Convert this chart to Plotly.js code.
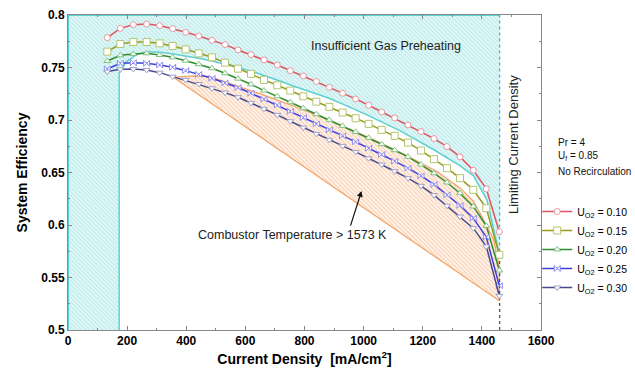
<!DOCTYPE html>
<html>
<head>
<meta charset="utf-8">
<script src="https://cdn.plot.ly/plotly-3.0.1.min.js"></script>
<style>html,body{margin:0;padding:0;background:#fff;}#chart{width:635px;height:381px;}</style>
</head>
<body>
<div id="chart"></div>
<script>
// Current density points (mA/cm^2)
const currentDensity = [133,177,221,266,310,354,398,442,487,531,575,619,663,708,752,796,840,884,929,973,1017,1061,1105,1150,1194,1238,1282,1326,1371,1415,1459];
const seriesNames = ['U<sub>O2</sub> = 0.10','U<sub>O2</sub> = 0.15','U<sub>O2</sub> = 0.20','U<sub>O2</sub> = 0.25','U<sub>O2</sub> = 0.30'];
const effU010 = [0.7784,0.7873,0.7908,0.7914,0.7899,0.7870,0.7835,0.7800,0.7759,0.7718,0.7667,0.7623,0.7572,0.7524,0.7470,0.7420,0.7366,0.7312,0.7255,0.7201,0.7141,0.7077,0.7020,0.6953,0.6890,0.6823,0.6747,0.6649,0.6522,0.6344,0.5935];
const effU015 = [0.7651,0.7724,0.7743,0.7743,0.7730,0.7705,0.7673,0.7635,0.7597,0.7546,0.7489,0.7439,0.7382,0.7331,0.7280,0.7226,0.7175,0.7125,0.7071,0.7017,0.6963,0.6906,0.6849,0.6785,0.6709,0.6627,0.6541,0.6446,0.6335,0.6160,0.5716];
const effU020 = [0.7562,0.7616,0.7629,0.7635,0.7619,0.7597,0.7565,0.7531,0.7493,0.7445,0.7394,0.7340,0.7280,0.7226,0.7169,0.7112,0.7055,0.7001,0.6944,0.6887,0.6830,0.6769,0.6712,0.6649,0.6576,0.6493,0.6405,0.6303,0.6176,0.5992,0.5567];
const effU025 = [0.7486,0.7540,0.7546,0.7540,0.7524,0.7502,0.7470,0.7435,0.7397,0.7353,0.7309,0.7255,0.7198,0.7141,0.7083,0.7023,0.6963,0.6906,0.6849,0.6792,0.6731,0.6671,0.6608,0.6541,0.6468,0.6386,0.6287,0.6186,0.6065,0.5885,0.5422];
const effU030 = [0.7461,0.7483,0.7486,0.7477,0.7451,0.7413,0.7382,0.7343,0.7302,0.7261,0.7217,0.7163,0.7106,0.7049,0.6988,0.6928,0.6868,0.6811,0.6754,0.6696,0.6636,0.6576,0.6512,0.6446,0.6373,0.6284,0.6183,0.6081,0.5970,0.5796,0.5326];

// Preheating limit boundary (insufficient gas preheating above it)
const preheatX = [173,173,198,231,265,311,356,401,446,491,536,582,627,672,717,762,813,881,943,1011,1124,1236,1327,1372,1417,1457];
const preheatY = [0.5,0.7445,0.7556,0.7620,0.7651,0.7645,0.7629,0.7610,0.7585,0.7559,0.7531,0.7496,0.7458,0.7416,0.7372,0.7324,0.7277,0.7210,0.7134,0.7049,0.6896,0.6719,0.6563,0.6468,0.6240,0.5748];
// Combustor temperature limit region (> 1573 K)
const combUpperX = [356,423,480,548,661,774,886,1022,1135,1248,1327,1372,1409,1440,1459];
const combUpperY = [0.7407,0.7420,0.7413,0.7350,0.7239,0.7121,0.6995,0.6827,0.6677,0.6509,0.6351,0.6224,0.6034,0.5859,0.5606];
const combLowerX = [1459,356];
const combLowerY = [0.5279,0.7407];
const limitingCurrent = 1460;
const axisMin = {x:0, y:0.5}, axisMax = {x:1600, y:0.8};
const xTicks = [0,200,400,600,800,1000,1200,1400,1600];
const yTicks = [0.5,0.55,0.6,0.65,0.7,0.75,0.8];
const yTickText = ['0.5','0.55','0.6','0.65','0.7','0.75','0.8'];

const FONT = 'Arial, "Liberation Sans", sans-serif';

// cyan region polygon
const cyanPolyX = [axisMin.x, axisMin.x].concat(preheatX).concat([limitingCurrent, limitingCurrent, axisMin.x]);
const cyanPolyY = [axisMin.y, axisMin.y].concat(preheatY).concat([preheatY[preheatY.length-1], axisMax.y, axisMax.y]);
cyanPolyX[1] = preheatX[0];

const traces = [];
traces.push({x: cyanPolyX, y: cyanPolyY, mode:'lines', fill:'toself', line:{width:0, color:'rgba(0,0,0,0)'},
  fillcolor:'#e0f6f6', fillpattern:{shape:'\\', bgcolor:'#e2f7f7', fgcolor:'#b3e8e8', size:3, solidity:0.3},
  showlegend:false, hoverinfo:'skip'});
traces.push({x: combUpperX.concat(combLowerX), y: combUpperY.concat(combLowerY), mode:'lines', fill:'toself',
  line:{width:1.2, color:'#f4a263'},
  fillcolor:'#fdeee3', fillpattern:{shape:'\\', bgcolor:'#fff4ec', fgcolor:'#f8c7a4', size:3, solidity:0.3},
  showlegend:false, hoverinfo:'skip'});
// cyan boundary lines
traces.push({x: preheatX, y: preheatY, mode:'lines', line:{color:'#5fd0d0', width:1.5}, showlegend:false, hoverinfo:'skip'});
traces.push({x: [axisMin.x, axisMin.x, limitingCurrent], y: [axisMin.y, axisMax.y, axisMax.y], mode:'lines', line:{color:'#5fd0d0', width:2}, showlegend:false, hoverinfo:'skip', cliponaxis:false});
// limiting current density dashed line
traces.push({x: [limitingCurrent, limitingCurrent], y: [preheatY[preheatY.length-1], axisMax.y], mode:'lines', line:{color:'#40b8b8', width:1.3, dash:'3px,3px'}, showlegend:false, hoverinfo:'skip'});
traces.push({x: [limitingCurrent, limitingCurrent], y: [axisMin.y, preheatY[preheatY.length-1]], mode:'lines', line:{color:'#555', width:1.3, dash:'3px,3px'}, showlegend:false, hoverinfo:'skip'});

const styles = [
  {line:'#e0555f', edge:'#e59aa3', symbol:'circle', size:6},
  {line:'#9a9a1c', edge:'#b4c66e', symbol:'square', size:7},
  {line:'#2f8f2f', edge:'#80c080', symbol:'triangle-up', size:6},
  {line:'#3f3fe0', edge:'#8c8cf2', symbol:'bowtie', size:6},
  {line:'#4a4a8e', edge:'#a0a0c8', symbol:'triangle-down', size:6}
];
const ys = [effU010, effU015, effU020, effU025, effU030];
ys.forEach((y, i) => {
  traces.push({x: currentDensity, y: y, name: seriesNames[i], mode:'lines+markers',
    line:{color: styles[i].line, width:1.5},
    marker:{symbol: styles[i].symbol, size: styles[i].size, color:'#ffffff', line:{color: styles[i].edge, width:1}}});
});

const layout = {
  width:635, height:381,
  margin:{l:68, r:94, t:15, b:51, autoexpand:false},
  paper_bgcolor:'#fff', plot_bgcolor:'#fff',
  font:{family:FONT, color:'#000'},
  showlegend:true,
  legend:{xref:'container', yref:'container', x:0.846, xanchor:'left', y:0.483, yanchor:'top', font:{size:10.5, family:FONT}, bgcolor:'rgba(0,0,0,0)', tracegroupgap:0, itemwidth:30},
  xaxis:{range:[axisMin.x, axisMax.x], tickvals:xTicks, ticks:'inside', ticklen:4, tickcolor:'#888', showline:true, linecolor:'#888', linewidth:1,
    mirror:'ticks', showgrid:false, zeroline:false, automargin:false, tickfont:{size:12, family:FONT, weight:'bold'},
    minor:{dtick:100, ticks:'inside', ticklen:2, tickcolor:'#888'},
    title:{text:'Current Density  [mA/cm<sup>2</sup>]', font:{size:14, family:FONT, weight:'bold'}, standoff:6}},
  yaxis:{range:[axisMin.y, axisMax.y], tickvals:yTicks, ticktext:yTickText, ticks:'inside', ticklen:4, tickcolor:'#888', showline:true, linecolor:'#888', linewidth:1,
    mirror:'ticks', showgrid:false, zeroline:false, automargin:false, tickfont:{size:12, family:FONT, weight:'bold'},
    minor:{dtick:0.025, ticks:'inside', ticklen:2, tickcolor:'#888'},
    title:{text:'System Efficiency', font:{size:14, family:FONT, weight:'bold'}, standoff:10}},
  annotations:[
    {x:1076, y:0.7705, xref:'x', yref:'y', text:'Insufficient Gas Preheating', showarrow:false, font:{size:12.5, family:FONT, color:'#222'}},
    {x:758, y:0.5905, xref:'x', yref:'y', text:'Combustor Temperature > 1573 K', showarrow:false, font:{size:12.5, family:FONT, color:'#222'}},
    {x:993, y:0.6324, ax:954, ay:0.598, xref:'x', yref:'y', axref:'x', ayref:'y', text:'', showarrow:true, arrowhead:2, arrowsize:1, arrowwidth:1.2, arrowcolor:'#111'},
    {x:1505, y:0.677, xref:'x', yref:'y', text:'Limiting Current Density', textangle:-90, showarrow:false, font:{size:13, family:FONT, color:'#222'}},
    {x:556, y:142, xref:'paper', yref:'paper', text:'Pr = 4', showarrow:false, xanchor:'left', font:{size:10, family:FONT, color:'#111'}},
    {x:556, y:156, xref:'paper', yref:'paper', text:'U<sub>f</sub> = 0.85', showarrow:false, xanchor:'left', font:{size:10, family:FONT, color:'#111'}},
    {x:556, y:171, xref:'paper', yref:'paper', text:'No Recirculation', showarrow:false, xanchor:'left', font:{size:10, family:FONT, color:'#111'}}
  ]
};
// convert pixel-placed side notes into paper coordinates
const plotW = 635 - layout.margin.l - layout.margin.r, plotH = 381 - layout.margin.t - layout.margin.b;
layout.annotations.forEach(a => {
  if (a.xref === 'paper') {
    a.x = (a.x - layout.margin.l) / plotW;
    a.y = 1 - (a.y - layout.margin.t) / plotH;
  }
});
Plotly.newPlot('chart', traces, layout, {displayModeBar:false, staticPlot:true});
</script>
</body>
</html>
